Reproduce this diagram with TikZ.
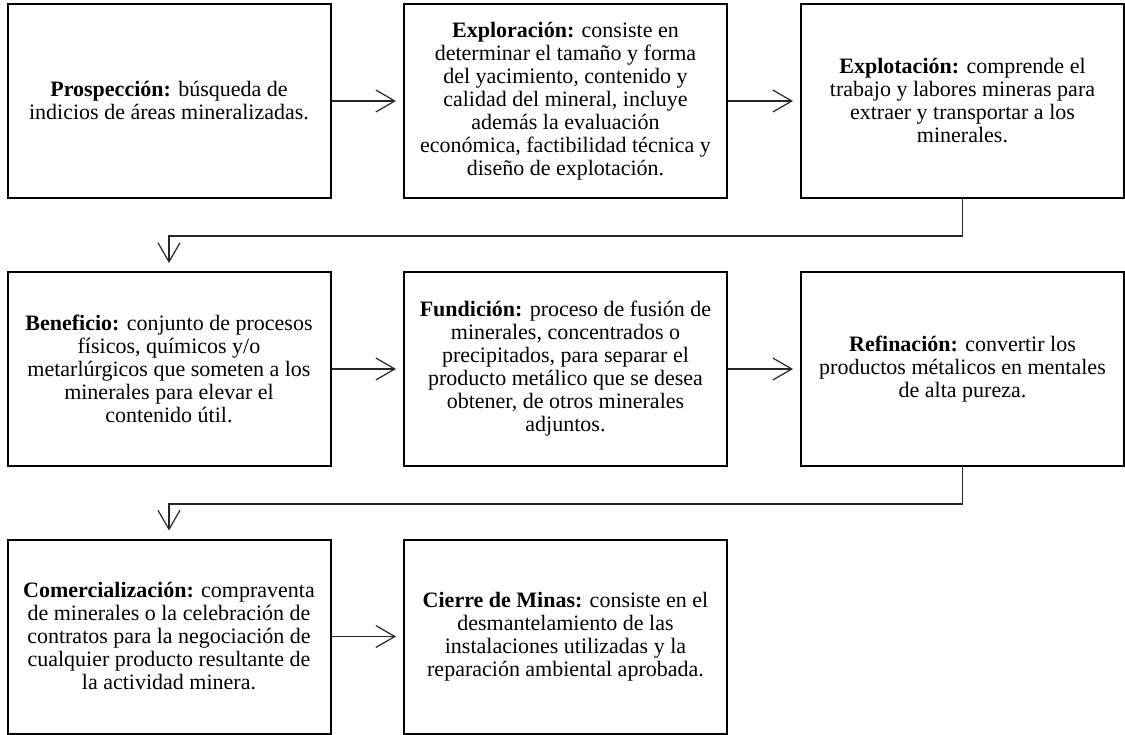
\documentclass[tikz,border=0pt]{standalone}
\usepackage{fontspec}
\setmainfont{Liberation Serif}
\usetikzlibrary{arrows.meta}
\begin{document}
\begin{tikzpicture}[x=1pt,y=-1pt,
  stage/.style={draw=black, line width=2pt, rectangle, minimum width=323pt, minimum height=194pt,
    inner sep=0pt, align=center, font=\fontsize{22}{23}\selectfont, text=black},
  arr/.style={draw=black!85, line width=1.2pt, -{Straight Barb[length=19pt,width=22pt,line width=1.2pt]}}]
\useasboundingbox (0,0) rectangle (1125,735);
\node[stage] (b1) at (169,101) {\textbf{Prospección:} búsqueda de\\indicios de áreas mineralizadas.};
\node[stage] (b2) at (565.5,101) {\textbf{Exploración:} consiste en\\determinar el tamaño y forma\\del yacimiento, contenido y\\calidad del mineral, incluye\\además la evaluación\\económica, factibilidad técnica y\\diseño de explotación.};
\node[stage] (b3) at (962.5,101) {\textbf{Explotación:} comprende el\\trabajo y labores mineras para\\extraer y transportar a los\\minerales.};
\node[stage] (b4) at (169,369) {\textbf{Beneficio:} conjunto de procesos\\físicos, químicos y/o\\metarlúrgicos que someten a los\\minerales para elevar el\\contenido útil.};
\node[stage] (b5) at (565.5,369) {\textbf{Fundición:} proceso de fusión de\\minerales, concentrados o\\precipitados, para separar el\\producto metálico que se desea\\obtener, de otros minerales\\adjuntos.};
\node[stage] (b6) at (962.5,369) {\textbf{Refinación:} convertir los\\productos métalicos en mentales\\de alta pureza.};
\node[stage] (b7) at (169,636.5) {\textbf{Comercialización:} compraventa\\de minerales o la celebración de\\contratos para la negociación de\\cualquier producto resultante de\\la actividad minera.};
\node[stage] (b8) at (565.5,636.5) {\textbf{Cierre de Minas:} consiste en el\\desmantelamiento de las\\instalaciones utilizadas y la\\reparación ambiental aprobada.};
\draw[arr] (b1.east) -- ([xshift=-7pt]b2.west);
\draw[arr] (b2.east) -- ([xshift=-7pt]b3.west);
\draw[arr] (b3.south) -- ++(0,37) -| ([yshift=8pt]b4.north);
\draw[arr] (b4.east) -- ([xshift=-7pt]b5.west);
\draw[arr] (b5.east) -- ([xshift=-7pt]b6.west);
\draw[arr] (b6.south) -- ++(0,37) -| ([yshift=8pt]b7.north);
\draw[arr] (b7.east) -- ([xshift=-7pt]b8.west);
\end{tikzpicture}
\end{document}
